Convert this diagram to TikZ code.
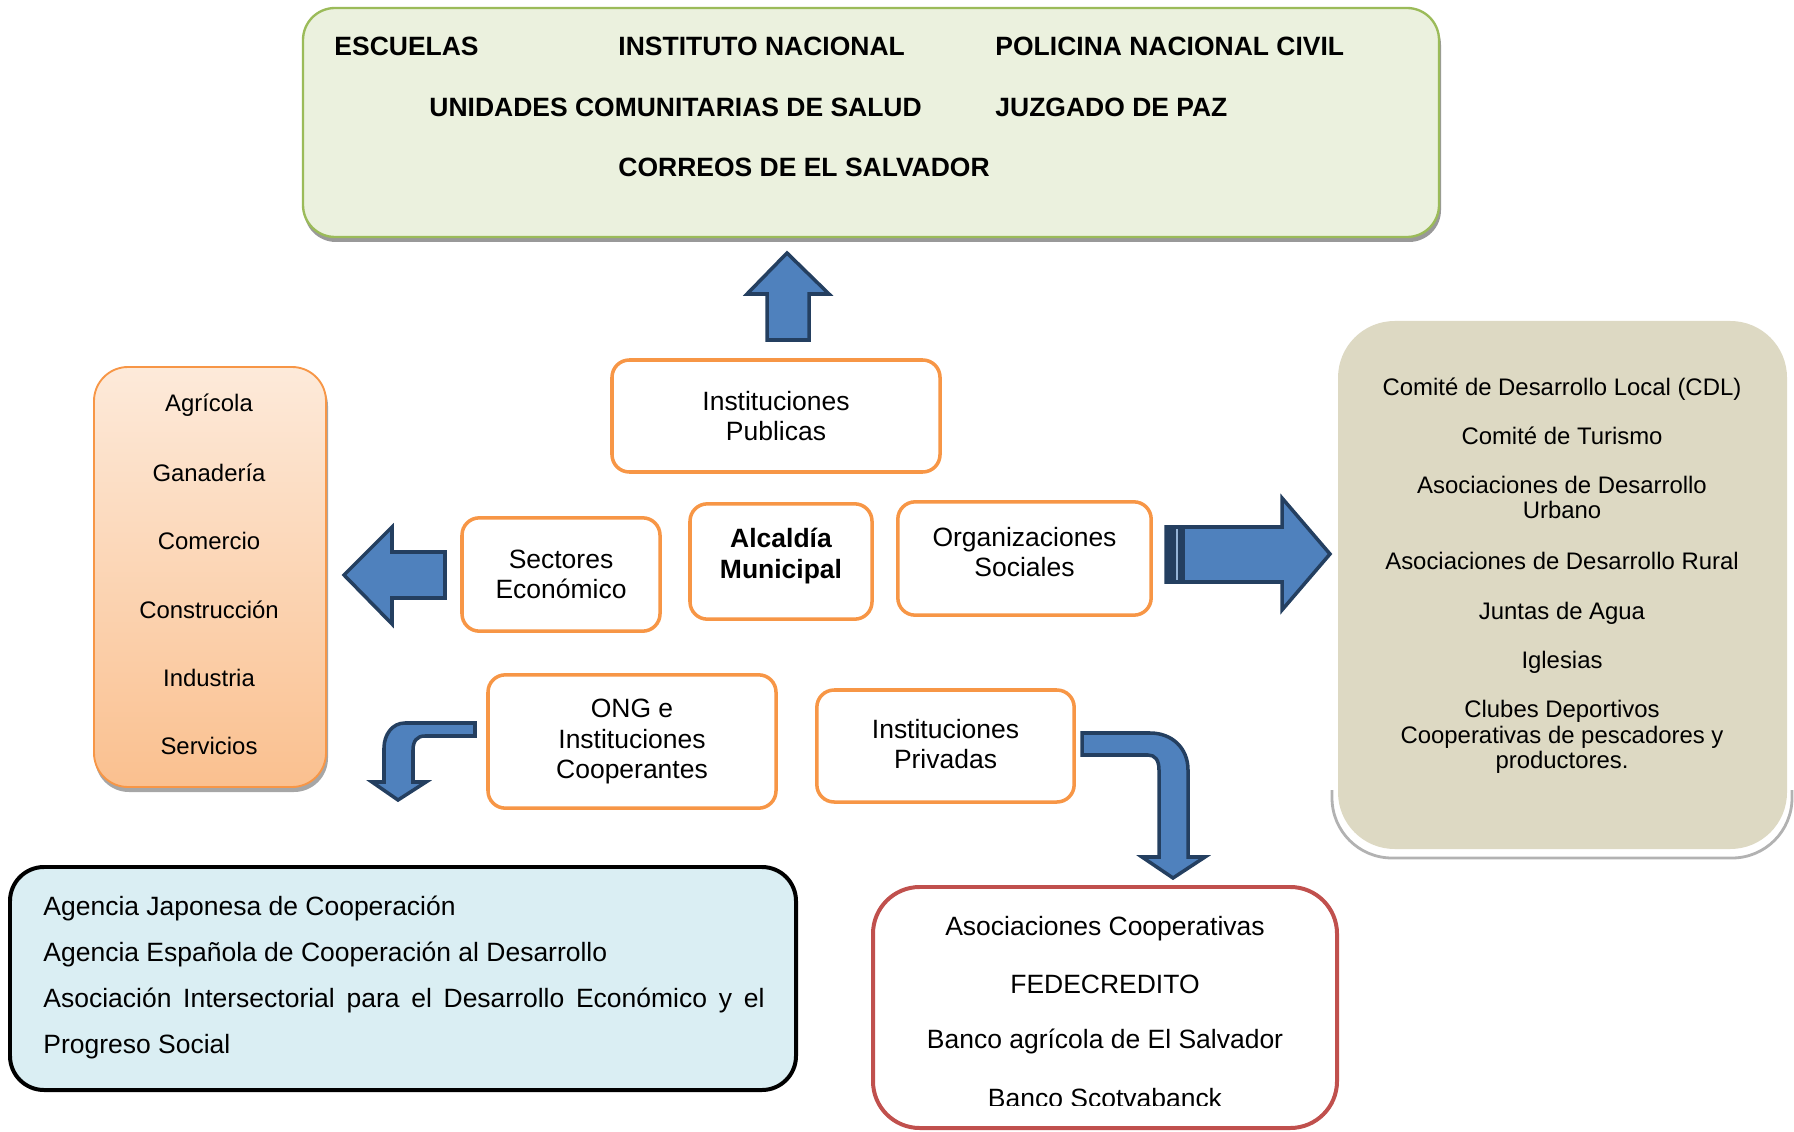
\documentclass[tikz,border=0pt]{standalone}
\usepackage{fontspec}
\setmainfont{Liberation Sans}
\usetikzlibrary{positioning}
\definecolor{grnfill}{HTML}{EBF1DE}
\definecolor{grnline}{HTML}{9BBB59}
\definecolor{orgline}{HTML}{F79646}
\definecolor{orgtop}{HTML}{FDEADA}
\definecolor{orgbot}{HTML}{FAC08F}
\definecolor{sandfill}{HTML}{DDD9C3}
\definecolor{skyfill}{HTML}{DAEEF3}
\definecolor{redline}{HTML}{C0504D}
\definecolor{arrfill}{HTML}{4F81BD}
\definecolor{arrline}{HTML}{243F60}

\begin{document}
\begin{tikzpicture}[
    x=0.015cm, y=-0.015cm,
    ent/.style={draw=orgline, line width=1.5pt, rounded corners=2.6mm, fill=white, align=center, inner sep=0pt, font=\fontsize{11.3}{12.8}\selectfont},
    caps/.style={anchor=west, inner sep=0pt, font=\bfseries\fontsize{11.3}{13}\selectfont},
    item/.style={align=center, inner sep=0pt, font=\fontsize{10.2}{10.8}\selectfont},
    big/.style={inner sep=0pt, font=\fontsize{11.3}{13}\selectfont},
    blk/.style={fill=arrfill, draw=arrline, line width=1.5pt, line join=miter}
]
\useasboundingbox (0,0) rectangle (1794,1132);

% public institutions
\fill[black!40, rounded corners=4.8mm] (304,13) rectangle (1441,242);
\draw[grnline, fill=grnfill, line width=1pt, rounded corners=4.8mm] (303,8) rectangle (1439,237);
\node[caps] (esc) at (334,46) {ESCUELAS};
\node[caps] (ins) at (618,46) {INSTITUTO NACIONAL};
\node[caps] (pnc) at (995,46) {POLICINA NACIONAL CIVIL};
\node[caps] (ucs) at (429,107) {UNIDADES COMUNITARIAS DE SALUD};
\node[caps] (jpz) at (995,107) {JUZGADO DE PAZ};
\node[caps] (cor) at (618,167) {CORREOS DE EL SALVADOR};

% economic sectors
\fill[black!35, rounded corners=5.1mm] (95,372) rectangle (328,792);
\draw[orgline, line width=0.8pt, top color=orgtop, bottom color=orgbot, rounded corners=5.1mm] (94,367) rectangle (326,787);
\foreach \sname [count=\i from 0] in {Agrícola,Ganadería,Comercio,Construcción,Industria,Servicios}
  \node[item] (sec\i) at (209,{405+68.2*\i}) {\sname};

% social organizations
\draw[black!30, line width=1.2pt, rounded corners=9mm] (1332,790) -- (1332,858) -- (1792,858) -- (1792,790);
\fill[sandfill, rounded corners=8.5mm] (1338,321) rectangle (1787,849);
\node[item] (cdl) at (1562,389) {Comité de Desarrollo Local (CDL)};
\node[item] (tur) at (1562,436) {Comité de Turismo};
\node[item] (urb) at (1562,497.5) {Asociaciones de Desarrollo\\Urbano};
\node[item] (rur) at (1562,561) {Asociaciones de Desarrollo Rural};
\node[item] (agu) at (1562,613) {Juntas de Agua};
\node[item] (igl) at (1562,662) {Iglesias};
\node[item] (clu) at (1562,737) {Clubes Deportivos\\Cooperativas de pescadores y\\productores.};

% cooperating agencies
\draw[black, fill=skyfill, line width=1.7pt, rounded corners=5.1mm] (10,867) rectangle (796,1090);
\node[big, font=\fontsize{11.3}{19.6}\selectfont, anchor=north west, text width=108.15mm, align=justify] (agn) at (43,883)
  {\strut Agencia Japonesa de Cooperación\\Agencia Española de Cooperación al Desarrollo\\Asociación Intersectorial para el Desarrollo Económico y el Progreso Social};

% private institutions
\draw[redline, line width=1.7pt, rounded corners=7mm] (873,887) rectangle (1337,1128);
\node[big] (coop) at (1105,929) {Asociaciones Cooperativas};
\node[big] (fede) at (1105,984) {FEDECREDITO};
\node[big] (bagr) at (1105,1041) {Banco agrícola de El Salvador};
\begin{scope}
  \clip (873,1060) rectangle (1337,1105);
  \node[big] (bsco) at (1105,1098) {Banco Scotvabanck};
\end{scope}

% actors around the municipality
\node[ent, minimum width=49.2mm, minimum height=16.8mm] (pub) at (776,416) {Instituciones\\Publicas};
\node[ent, minimum width=29.7mm, minimum height=17mm] (eco) at (561,574.5) {Sectores\\Económico};
\node[ent, minimum width=27.3mm, minimum height=17.3mm, font=\bfseries\fontsize{11.3}{13.1}\selectfont] (alc) at (781,561.5) {Alcaldía\\Municipal\rule[-6.8pt]{0pt}{0pt}};
\node[ent, minimum width=38mm, minimum height=17mm] (soc) at (1024.5,558.5) {Organizaciones\\Sociales\rule[-5.5pt]{0pt}{0pt}};
\node[ent, minimum width=43.2mm, minimum height=20mm, font=\fontsize{11.3}{13.2}\selectfont] (ong) at (632,741.5) {ONG e\\Instituciones\\Cooperantes};
\node[ent, minimum width=38.6mm, minimum height=16.8mm] (pri) at (945.5,746) {Instituciones\\Privadas\rule[-1.5pt]{0pt}{0pt}};

% block arrows
\filldraw[blk] (787,253) -- (829,294) -- (809,294) -- (809,340) -- (767,340) -- (767,294) -- (747,294) -- cycle;
\filldraw[blk] (344,575) -- (392,527) -- (392,552) -- (445,552) -- (445,598) -- (392,598) -- (392,624) -- cycle;
\filldraw[blk] (1166,527) -- (1282,527) -- (1282,498) -- (1330,554) -- (1282,610) -- (1282,582) -- (1166,582) -- cycle;
\fill[arrline] (1166,527) rectangle (1185,582);
\draw[arrfill!60!white, line width=0.5pt] (1177,529) -- (1177,580);
\filldraw[blk] (475,723) -- (405,723) .. controls (392,723) and (384,735) .. (384,748) -- (384,782)
  -- (372,782) -- (398,800) -- (426,782) -- (413,782) -- (413,750) .. controls (413,741) and (417,736) .. (425,736)
  -- (475,736) -- cycle;
\filldraw[blk] (1082,733) -- (1150,733) .. controls (1172,733) and (1188,748) .. (1188,770) -- (1188,857)
  -- (1205,857) -- (1173,878) -- (1142,857) -- (1159,857) -- (1159,770) .. controls (1159,760) and (1155,755) .. (1148,755)
  -- (1082,755) -- cycle;
\end{tikzpicture}
\end{document}
